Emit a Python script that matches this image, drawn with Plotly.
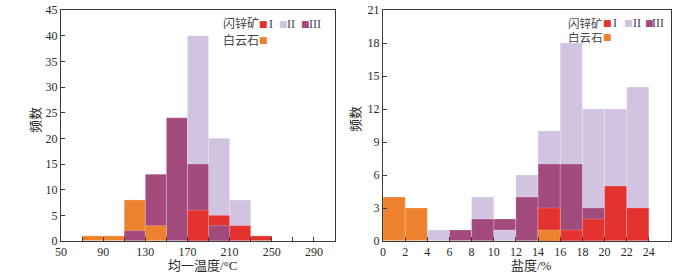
import plotly.graph_objects as go

# ---------------- data ----------------
# Left: homogenization temperature (bin centres, 20 degC bins)
temp_bins = [80, 100, 120, 140, 160, 180, 200, 220, 240]
temp_sph_I = [0, 0, 0, 0, 0, 6, 5, 3, 1]
temp_sph_II = [0, 0, 0, 0, 0, 40, 20, 8, 0]
temp_sph_III = [0, 0, 2, 13, 24, 15, 3, 0, 0]
temp_dol = [1, 1, 8, 3, 0, 0, 0, 0, 0]

# Right: salinity (bin centres, 2 % bins)
sal_bins = [1, 3, 5, 7, 9, 11, 13, 15, 17, 19, 21, 23]
sal_sph_I = [0, 0, 0, 0, 0, 0, 0, 3, 1, 2, 5, 3]
sal_sph_II = [0, 0, 1, 0, 4, 1, 6, 10, 18, 12, 12, 14]
sal_sph_III = [0, 0, 0, 1, 2, 2, 4, 7, 7, 3, 0, 0]
sal_dol = [4, 3, 0, 0, 0, 0, 0, 1, 0, 0, 0, 0]

temp_ticks = [50, 90, 130, 170, 210, 250, 290]
sal_ticks = [0, 2, 4, 6, 8, 10, 12, 14, 16, 18, 20, 22, 24]
temp_yticks = [0, 5, 10, 15, 20, 25, 30, 35, 40, 45]
sal_yticks = [0, 3, 6, 9, 12, 15, 18, 21]

colors = {"I": "#E4332E", "II": "#D2C4E0", "III": "#A34A7C", "dol": "#EE812E"}

FONT = "Liberation Serif, Times New Roman, Noto Sans CJK SC, serif"
TXT = "#2a2a2a"
LEG = "#444444"

fig = go.Figure()


def add_layered(centers, width, series, xa, ya):
    """overlay bars: in each bin the larger counts lie behind the smaller ones"""
    n = len(centers)
    names = list(series.keys())
    for k in range(len(names)):
        ys, cs = [], []
        for i in range(n):
            ordered = sorted(names, key=lambda nm: series[nm][i], reverse=True)
            nm = ordered[k]
            ys.append(series[nm][i])
            cs.append(colors[nm])
        fig.add_trace(go.Bar(
            x=centers, y=ys, width=width, xaxis=xa, yaxis=ya,
            marker=dict(color=cs, line=dict(color="rgba(255,255,255,0.35)", width=0.6)),
            showlegend=False, hoverinfo="skip"))


add_layered(temp_bins, 20,
            {"II": temp_sph_II, "III": temp_sph_III, "I": temp_sph_I, "dol": temp_dol},
            "x", "y")
add_layered(sal_bins, 2,
            {"II": sal_sph_II, "III": sal_sph_III, "I": sal_sph_I, "dol": sal_dol},
            "x2", "y2")

W, H = 700, 275
PL, PT, PR, PB = 61, 10, 671, 241   # plot area in page pixels
L, T, R, B = PL, PT, W - PR, H - PB
pw, ph = PR - PL, PB - PT


def px(x):
    return (x - PL) / pw


def py(y):
    return (PB - y) / ph


axis_common = dict(showline=True, linecolor="#3a3a3a", linewidth=1, mirror=True,
                   ticks="inside", ticklen=4, tickcolor="#3a3a3a", showgrid=False,
                   zeroline=False, automargin=False,
                   tickfont=dict(family=FONT, size=12, color=TXT))

fig.update_layout(
    width=W, height=H, margin=dict(l=L, r=R, t=T, b=B, autoexpand=False),
    paper_bgcolor="white", plot_bgcolor="white",
    barmode="overlay", bargap=0,
    xaxis=dict(domain=[0, px(335)], range=[50, 310], tickvals=temp_ticks,
               minor=dict(dtick=20, tick0=50, ticks="inside", ticklen=4, tickcolor="#3a3a3a"),
               anchor="y", **axis_common),
    yaxis=dict(domain=[0, 1], range=[0, 45], tickvals=temp_yticks, anchor="x", **axis_common),
    xaxis2=dict(domain=[px(383), 1], range=[0, 26], tickvals=sal_ticks, anchor="y2", **axis_common),
    yaxis2=dict(domain=[0, 1], range=[0, 21], tickvals=sal_yticks, anchor="x2", **axis_common),
)

ann = []


def text(x, y, s, size=12, family=FONT, color=TXT, **kw):
    ann.append(dict(x=px(x), y=py(y), xref="paper", yref="paper", text=s, showarrow=False,
                    xanchor="center", yanchor="middle",
                    font=dict(family=family, size=size, color=color), **kw))


# axis titles
text(202, 265, "均一温度/°C", 13)
text(531, 265, "盐度/%", 13)
text(35, 120, "频数", 13, textangle=-90)
text(355, 119, "频数", 13, textangle=-90)


def square(x, y, c):
    text(x, y, "■", 9, family="DejaVu Sans", color=c)


# left legend
text(240.5, 24, "闪锌矿", 12, color=LEG)
square(263.3, 24, colors["I"]); text(270.7, 24, "I", 12, color=LEG)
square(283.3, 24, colors["II"]); text(291, 24, "II", 12, color=LEG)
square(305.7, 24, colors["III"]); text(315, 24, "III", 12, color=LEG)
text(240.5, 40, "白云石", 12, color=LEG)
square(263.3, 40, colors["dol"])

# right legend
text(585.5, 23.5, "闪锌矿", 11.5, color=LEG)
square(607.3, 23.5, colors["I"]); text(615.3, 23.5, "I", 12, color=LEG)
square(628.3, 23.5, colors["II"]); text(637.3, 23.5, "II", 12, color=LEG)
square(649.3, 23.5, colors["III"]); text(658.3, 23.5, "III", 12, color=LEG)
text(585.5, 37, "白云石", 11.5, color=LEG)
square(607.3, 37, colors["dol"])

fig.update_layout(annotations=ann)

# remove the browser's default 8px body margin so the figure sits at the page origin
fig.write_html("out.html",
               config={"displayModeBar": False, "staticPlot": True},
               post_script="document.body.style.margin='0';document.body.style.overflow='hidden';")
